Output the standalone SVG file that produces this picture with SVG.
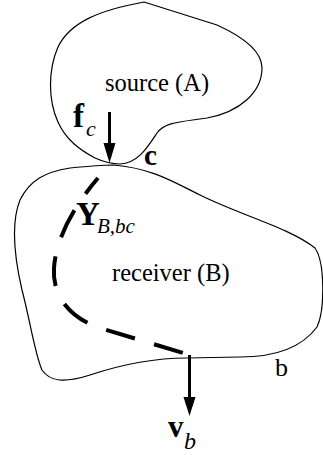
<svg xmlns="http://www.w3.org/2000/svg" width="323" height="455" viewBox="0 0 323 455">
<defs>
<style>
.outline{fill:none;stroke:#000;stroke-width:1.2}
.dash{fill:none;stroke:#000;stroke-width:4;stroke-dasharray:30 20;stroke-dashoffset:10}
.shaft{fill:none;stroke:#000;stroke-width:3}
.head{fill:#000;stroke:none}
.t{font-family:"Liberation Serif","Times New Roman",serif;fill:#000}
.b{font-weight:bold}
.i{font-style:italic}
</style>
</defs>
<g id="source">
<path class="outline" d="M144,2 L217,25 C250,40 262,55 262,68 C262,92 240,112 207,118 C180,122 165,122 157,133 C147,148 138,163 120,164 C112,164 104,162 95,158 C80,150 66,140 58,122 C48,100 48,70 58,47 C70,22 100,10 144,2 Z"/>
<text class="t" x="105" y="91" font-size="24.5">source (A)</text>
</g>
<g id="receiver">
<path class="outline" d="M113,165 C150,168 170,180 200,195 C240,215 290,228 315,248 C325,262 325,310 317,327 C300,350 270,357 240,357 L187,358 C150,358 120,365 90,375 C65,383 50,382 42,370 C35,355 30,320 22,290 C15,260 10,225 20,200 C30,180 45,172 70,168 C90,166 100,165 113,165 Z"/>
<text class="t" x="112" y="281" font-size="24.5">receiver (B)</text>
</g>
<g id="connectors">
<path class="dash" d="M98,178 C74,206 56,238 54,268 C52,296 70,318 100,328 L190,355"/>
<line class="shaft" x1="109.5" y1="112" x2="109.5" y2="145"/>
<polygon class="head" points="103.5,143 115.5,143 109.5,163"/>
<line class="shaft" x1="189.5" y1="355" x2="189.5" y2="399"/>
<polygon class="head" points="183.5,397 195.5,397 189.5,416"/>
</g>
<g id="labels">
<text class="t b" x="73" y="127" font-size="33">f</text>
<text class="t i" x="86" y="136" font-size="22">c</text>
<text class="t b" x="144" y="165" font-size="29">c</text>
<text class="t b" x="76" y="225" font-size="33">Y</text>
<text class="t i" x="97" y="233" font-size="21">B,bc</text>
<text class="t" x="275" y="376" font-size="26">b</text>
<text class="t b" x="168" y="437" font-size="31">v</text>
<text class="t i" x="184" y="449" font-size="24">b</text>
</g>
</svg>
